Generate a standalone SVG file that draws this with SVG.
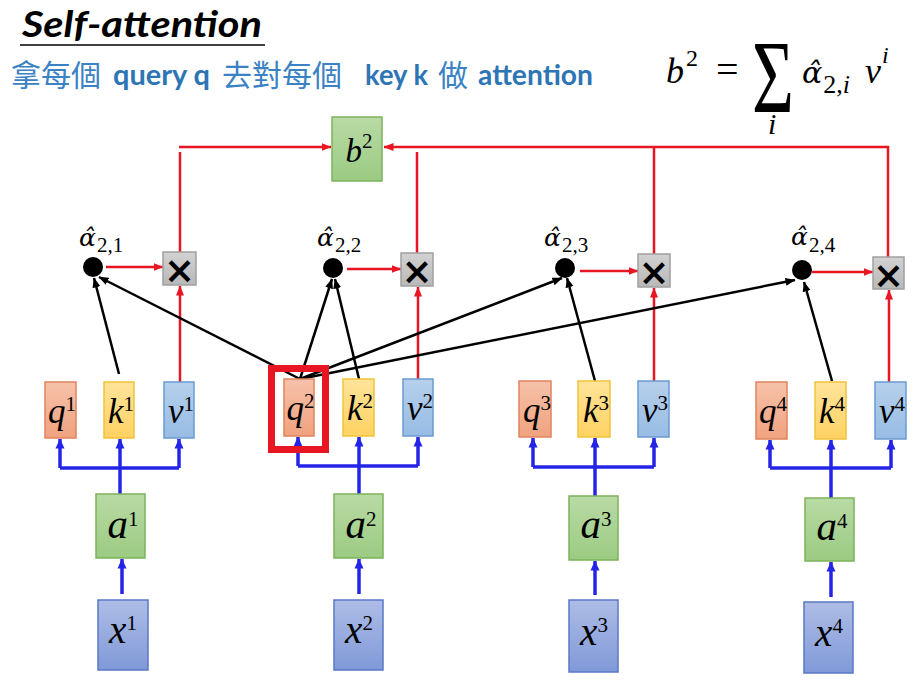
<svg xmlns="http://www.w3.org/2000/svg" width="921" height="683" viewBox="0 0 921 683">
<style>
.m{font-family:'Liberation Serif','DejaVu Serif',serif;font-style:italic;fill:#000}
.al{font-family:'DejaVu Serif',serif;font-style:italic;fill:#000}
.d{font-style:normal;font-family:'Liberation Serif',serif}
.blue{stroke:#2424E8;stroke-width:3.5;fill:none}
.red{stroke:#E81522;stroke-width:2.5;fill:none}
.blk{stroke:#000;stroke-width:2.5;fill:none}
.q{fill:url(#gq);stroke:#E0845E;stroke-width:1.5}
.k{fill:url(#gk);stroke:#F2C23A;stroke-width:1.5}
.v{fill:url(#gv);stroke:#6A9AD2;stroke-width:1.5}
.a{fill:url(#ga);stroke:#7DB35A;stroke-width:1.5}
.x{fill:url(#gx);stroke:#5A78C6;stroke-width:1.5}
.mul{fill:url(#gm);stroke:#A0A0A0;stroke-width:1.5}
.xs{font-family:'DejaVu Sans',sans-serif;font-weight:bold;font-size:37px;fill:#000}
.cn{font-family:'Noto Sans CJK TC','Noto Sans CJK SC',sans-serif;font-size:30px;fill:#3A82C4}
.en{font-family:Lato,'Open Sans',sans-serif;font-weight:bold;font-size:28px;fill:#2E75B6}
</style>
<defs>
<linearGradient id="gq" x1="0" y1="0" x2="0" y2="1"><stop offset="0" stop-color="#F6C2AA"/><stop offset="1" stop-color="#F0A27F"/></linearGradient>
<linearGradient id="gk" x1="0" y1="0" x2="0" y2="1"><stop offset="0" stop-color="#FFE49A"/><stop offset="1" stop-color="#FFD263"/></linearGradient>
<linearGradient id="gv" x1="0" y1="0" x2="0" y2="1"><stop offset="0" stop-color="#B6D0EC"/><stop offset="1" stop-color="#97BCE4"/></linearGradient>
<linearGradient id="ga" x1="0" y1="0" x2="0" y2="1"><stop offset="0" stop-color="#B9DAA5"/><stop offset="1" stop-color="#9BCB82"/></linearGradient>
<linearGradient id="gx" x1="0" y1="0" x2="0" y2="1"><stop offset="0" stop-color="#AEBDE6"/><stop offset="1" stop-color="#8099D8"/></linearGradient>
<linearGradient id="gm" x1="0" y1="0" x2="0" y2="1"><stop offset="0" stop-color="#D2D2D2"/><stop offset="1" stop-color="#B8B8B8"/></linearGradient>
<marker id="mb" viewBox="0 0 10 10" refX="9.5" refY="5" markerWidth="10" markerHeight="10" markerUnits="userSpaceOnUse" orient="auto"><path d="M0,0.5 L10,5 L0,9.5 z" fill="#2424E8"/></marker>
<marker id="mr" viewBox="0 0 10 10" refX="9.5" refY="5" markerWidth="10" markerHeight="10" markerUnits="userSpaceOnUse" orient="auto"><path d="M0,1 L10,5 L0,9 z" fill="#E81522"/></marker>
<marker id="mk" viewBox="0 0 10 10" refX="9.5" refY="5" markerWidth="10" markerHeight="10" markerUnits="userSpaceOnUse" orient="auto"><path d="M0,1 L10,5 L0,9 z" fill="#000"/></marker>
</defs>
<rect width="921" height="683" fill="#fff"/>

<g id="title">
<text x="22" y="37" font-family="Lato,'Open Sans',sans-serif" font-weight="bold" font-style="italic" font-size="37" textLength="240" lengthAdjust="spacingAndGlyphs" fill="#000">Self-attention</text>
<line x1="20" y1="45" x2="265" y2="45" stroke="#000" stroke-width="1.5"/>
</g>

<g id="subtitle">
<text class="cn" x="11" y="86">拿每個</text>
<text class="en" x="113" y="85" textLength="97" lengthAdjust="spacingAndGlyphs">query q</text>
<text class="cn" x="222" y="86">去對每個</text>
<text class="en" x="365" y="85" textLength="63" lengthAdjust="spacingAndGlyphs">key k</text>
<text class="cn" x="438" y="86">做</text>
<text class="en" x="478" y="85" textLength="115" lengthAdjust="spacingAndGlyphs">attention</text>
</g>

<g id="formula">
<text class="m" x="666" y="83" font-size="36">b<tspan class="d" font-size="24" dx="2" dy="-17">2</tspan></text>
<text class="m d" x="716" y="83" font-size="40">=</text>
<text transform="translate(752,112) scale(1,1.45)" font-family="'Liberation Serif',serif" font-size="72" fill="#000">Σ</text>
<text class="m" x="768" y="134" font-size="30">i</text>
<text class="al" x="802" y="83" font-size="30">α̂<tspan class="d" font-size="26" dx="1" dy="10">2,</tspan><tspan class="m" font-size="26">i</tspan></text>
<text class="m" x="865" y="83" font-size="36">v<tspan font-size="24" dx="1" dy="-20">i</tspan></text>
</g>

<g id="connectors">
<polyline class="blue" points="60,468 179,468"/>
<line class="blue" x1="120" y1="494" x2="120" y2="439" marker-end="url(#mb)"/>
<line class="blue" x1="60" y1="468" x2="60" y2="439" marker-end="url(#mb)"/>
<line class="blue" x1="179" y1="468" x2="179" y2="439" marker-end="url(#mb)"/>
<line class="blue" x1="122" y1="594" x2="122" y2="559" marker-end="url(#mb)"/>

<polyline class="blue" points="298,466 418,466"/>
<line class="blue" x1="359" y1="494" x2="359" y2="437" marker-end="url(#mb)"/>
<line class="blue" x1="298" y1="466" x2="298" y2="437" marker-end="url(#mb)"/>
<line class="blue" x1="418" y1="466" x2="418" y2="437" marker-end="url(#mb)"/>
<line class="blue" x1="359" y1="594" x2="359" y2="559" marker-end="url(#mb)"/>

<polyline class="blue" points="533,467 654,467"/>
<line class="blue" x1="595" y1="496" x2="595" y2="438" marker-end="url(#mb)"/>
<line class="blue" x1="533" y1="467" x2="533" y2="438" marker-end="url(#mb)"/>
<line class="blue" x1="654" y1="467" x2="654" y2="438" marker-end="url(#mb)"/>
<line class="blue" x1="595" y1="595" x2="595" y2="561" marker-end="url(#mb)"/>

<polyline class="blue" points="770,468 891,468"/>
<line class="blue" x1="831" y1="498" x2="831" y2="440" marker-end="url(#mb)"/>
<line class="blue" x1="770" y1="468" x2="770" y2="440" marker-end="url(#mb)"/>
<line class="blue" x1="891" y1="468" x2="891" y2="440" marker-end="url(#mb)"/>
<line class="blue" x1="831" y1="597" x2="831" y2="562" marker-end="url(#mb)"/>

<line class="red" x1="106" y1="267" x2="163" y2="267" marker-end="url(#mr)"/>
<line class="red" x1="180" y1="382" x2="180" y2="286" marker-end="url(#mr)"/>
<line class="red" x1="180" y1="252" x2="180" y2="152"/>
<line class="red" x1="179" y1="147" x2="331" y2="147" marker-end="url(#mr)"/>

<line class="red" x1="347" y1="269" x2="401" y2="269" marker-end="url(#mr)"/>
<line class="red" x1="418" y1="379" x2="418" y2="287" marker-end="url(#mr)"/>
<line class="red" x1="417" y1="253" x2="417" y2="152"/>

<polyline class="red" points="888,257 888,147 384,147" marker-end="url(#mr)"/>
<line class="red" x1="654" y1="254" x2="654" y2="147"/>

<line class="red" x1="580" y1="271" x2="638" y2="271" marker-end="url(#mr)"/>
<line class="red" x1="654" y1="381" x2="654" y2="288" marker-end="url(#mr)"/>

<line class="red" x1="812" y1="272" x2="873" y2="272" marker-end="url(#mr)"/>
<line class="red" x1="889" y1="382" x2="889" y2="290" marker-end="url(#mr)"/>

<line class="blk" x1="300" y1="379" x2="99" y2="277" marker-end="url(#mk)"/>
<line class="blk" x1="300" y1="379" x2="332" y2="279" marker-end="url(#mk)"/>
<line class="blk" x1="359" y1="379" x2="335" y2="279" marker-end="url(#mk)"/>
<line class="blk" x1="300" y1="379" x2="562" y2="278" marker-end="url(#mk)"/>
<line class="blk" x1="300" y1="379" x2="795" y2="280" marker-end="url(#mk)"/>
<line class="blk" x1="119" y1="374" x2="94" y2="278" marker-end="url(#mk)"/>
<line class="blk" x1="595" y1="381" x2="567" y2="278" marker-end="url(#mk)"/>
<line class="blk" x1="832" y1="381" x2="804" y2="282" marker-end="url(#mk)"/>
</g>

<g id="b2">
<rect class="a" x="332" y="117" width="50" height="64"/>
<text class="m" x="359" y="162" font-size="33" text-anchor="middle">b<tspan class="d" font-size="21" dy="-14">2</tspan></text>
</g>

<g id="col1">
<rect class="q" x="45" y="382" width="31" height="56"/>
<text class="m" x="62" y="423" font-size="35" text-anchor="middle">q<tspan class="d" font-size="21" dy="-12">1</tspan></text>
<rect class="k" x="104" y="382" width="30" height="56"/>
<text class="m" x="121" y="423" font-size="35" text-anchor="middle">k<tspan class="d" font-size="21" dy="-12">1</tspan></text>
<rect class="v" x="164" y="382" width="30" height="56"/>
<text class="m" x="181" y="423" font-size="35" text-anchor="middle">v<tspan class="d" font-size="21" dy="-12">1</tspan></text>
<rect class="a" x="96" y="494" width="49" height="64"/>
<text class="m" x="123" y="538" font-size="41" text-anchor="middle">a<tspan class="d" font-size="21" dy="-12">1</tspan></text>
<rect class="x" x="98" y="600" width="50" height="70"/>
<text class="m" x="123" y="643" font-size="39" text-anchor="middle">x<tspan class="d" font-size="21" dy="-13">1</tspan></text>
<rect class="mul" x="163" y="252" width="33" height="33"/>
<text class="xs" x="179.5" y="283" text-anchor="middle">×</text>
<circle cx="93" cy="267" r="10" fill="#000"/>
<text class="al" x="79" y="246" font-size="25">α̂<tspan class="d" font-size="21" dx="1" dy="6">2,1</tspan></text>
</g>

<g id="col2">
<rect class="q" x="284" y="379" width="30" height="57"/>
<text class="m" x="300.5" y="420" font-size="35" text-anchor="middle">q<tspan class="d" font-size="21" dy="-12">2</tspan></text>
<rect x="271.5" y="368.5" width="54" height="81" fill="none" stroke="#E81522" stroke-width="7"/>
<rect class="k" x="343" y="379" width="31" height="57"/>
<text class="m" x="360" y="420" font-size="35" text-anchor="middle">k<tspan class="d" font-size="21" dy="-12">2</tspan></text>
<rect class="v" x="403" y="379" width="30" height="57"/>
<text class="m" x="420" y="420" font-size="35" text-anchor="middle">v<tspan class="d" font-size="21" dy="-12">2</tspan></text>
<rect class="a" x="334" y="494" width="49" height="64"/>
<text class="m" x="361" y="538" font-size="41" text-anchor="middle">a<tspan class="d" font-size="21" dy="-12">2</tspan></text>
<rect class="x" x="334" y="600" width="49" height="70"/>
<text class="m" x="359" y="643" font-size="39" text-anchor="middle">x<tspan class="d" font-size="21" dy="-13">2</tspan></text>
<rect class="mul" x="401" y="253" width="32" height="33"/>
<text class="xs" x="417" y="284" text-anchor="middle">×</text>
<circle cx="333" cy="268" r="10" fill="#000"/>
<text class="al" x="317" y="246" font-size="25">α̂<tspan class="d" font-size="21" dx="1" dy="6">2,2</tspan></text>
</g>

<g id="col3">
<rect class="q" x="519" y="381" width="32" height="56"/>
<text class="m" x="537" y="422" font-size="35" text-anchor="middle">q<tspan class="d" font-size="21" dy="-12">3</tspan></text>
<rect class="k" x="578" y="381" width="32" height="56"/>
<text class="m" x="596" y="422" font-size="35" text-anchor="middle">k<tspan class="d" font-size="21" dy="-12">3</tspan></text>
<rect class="v" x="638" y="381" width="31" height="56"/>
<text class="m" x="655" y="422" font-size="35" text-anchor="middle">v<tspan class="d" font-size="21" dy="-12">3</tspan></text>
<rect class="a" x="569" y="496" width="49" height="64"/>
<text class="m" x="596" y="538" font-size="41" text-anchor="middle">a<tspan class="d" font-size="21" dy="-12">3</tspan></text>
<rect class="x" x="569" y="600" width="49" height="72"/>
<text class="m" x="594" y="645" font-size="39" text-anchor="middle">x<tspan class="d" font-size="21" dy="-13">3</tspan></text>
<rect class="mul" x="638" y="254" width="32" height="33"/>
<text class="xs" x="654" y="285" text-anchor="middle">×</text>
<circle cx="565" cy="268" r="10" fill="#000"/>
<text class="al" x="544" y="246" font-size="25">α̂<tspan class="d" font-size="21" dx="1" dy="6">2,3</tspan></text>
</g>

<g id="col4">
<rect class="q" x="756" y="382" width="31" height="57"/>
<text class="m" x="773" y="423" font-size="35" text-anchor="middle">q<tspan class="d" font-size="21" dy="-12">4</tspan></text>
<rect class="k" x="815" y="382" width="31" height="57"/>
<text class="m" x="832" y="423" font-size="35" text-anchor="middle">k<tspan class="d" font-size="21" dy="-12">4</tspan></text>
<rect class="v" x="875" y="382" width="31" height="57"/>
<text class="m" x="892" y="423" font-size="35" text-anchor="middle">v<tspan class="d" font-size="21" dy="-12">4</tspan></text>
<rect class="a" x="805" y="498" width="49" height="63"/>
<text class="m" x="832" y="540" font-size="41" text-anchor="middle">a<tspan class="d" font-size="21" dy="-12">4</tspan></text>
<rect class="x" x="804" y="602" width="49" height="71"/>
<text class="m" x="829" y="646" font-size="39" text-anchor="middle">x<tspan class="d" font-size="21" dy="-13">4</tspan></text>
<rect class="mul" x="873" y="257" width="31" height="32"/>
<text class="xs" x="888.5" y="288" text-anchor="middle">×</text>
<circle cx="802" cy="270" r="10" fill="#000"/>
<text class="al" x="791" y="245" font-size="25">α̂<tspan class="d" font-size="21" dx="1" dy="7">2,4</tspan></text>
</g>
</svg>
